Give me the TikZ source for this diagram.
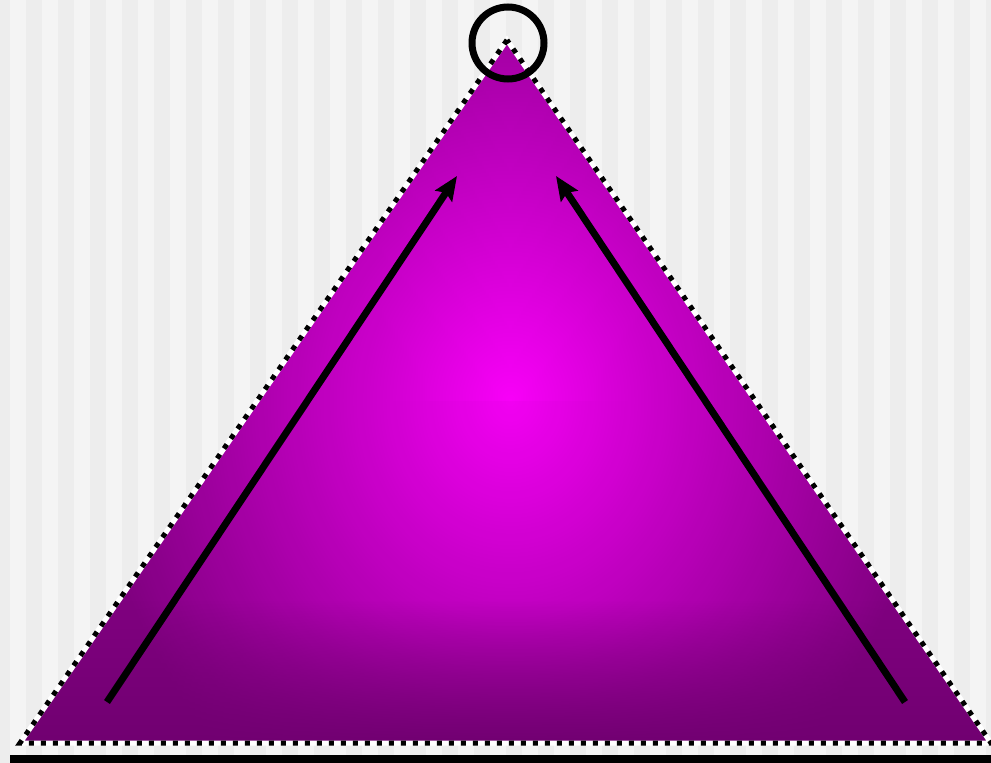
\documentclass[tikz,border=0pt]{standalone}
\usetikzlibrary{arrows.meta,fadings}
\definecolor{stripdark}{RGB}{237,237,237}
\definecolor{striplight}{RGB}{244,244,244}
\definecolor{plum}{RGB}{128,0,128}
\definecolor{pink}{RGB}{255,0,255}
\tikzset{
  edge/.style={line width=5pt,white},
  dots/.style={line width=5pt,black,dash pattern=on 5pt off 7pt},
  arr/.style={line width=7pt,-{Stealth[length=24pt,width=20pt,inset=4pt]}},
  ring/.style={draw,circle,line width=7pt,minimum size=72pt,inner sep=0pt}
}
\begin{document}
\begin{tikzpicture}[x=1pt,y=-1pt]
\useasboundingbox (0,0) rectangle (991,763);
% background stripes
\fill[stripdark] (0,0) rectangle (991,763);
\foreach \i in {0,...,30} \fill[striplight] (10+32*\i,0) rectangle (26+32*\i,763);
% triangle corners
\coordinate (top) at (507,40);
\coordinate (left) at (20,743);
\coordinate (right) at (991,743);
% shading
\begin{scope}
\clip (top) -- (left) -- (right) -- cycle;
\fill[plum] (20,40) rectangle (991,743);
\shade[left color=plum,right color=plum,middle color=pink!45!plum] (380,40) rectangle (640,400);
\shade[inner color=pink,outer color=plum,opacity=0.9] (90,-90) rectangle (930,890);
\fill[plum!88!black,path fading=north] (20,600) rectangle (991,743);
\end{scope}
\draw[edge] (top) -- (left) -- (right) -- cycle;
\draw[dots] (top) -- (left) -- (right) -- cycle;
% base line
\fill (10,755) rectangle (991,763);
% apex ring
\node[ring] (apex) at (508,43) {};
% arrows
\coordinate (a1) at (107,702);
\coordinate (a2) at (457,176);
\coordinate (b1) at (905,702);
\coordinate (b2) at (556,176);
\draw[arr] (a1) -- (a2);
\draw[arr] (b1) -- (b2);
\end{tikzpicture}
\end{document}
